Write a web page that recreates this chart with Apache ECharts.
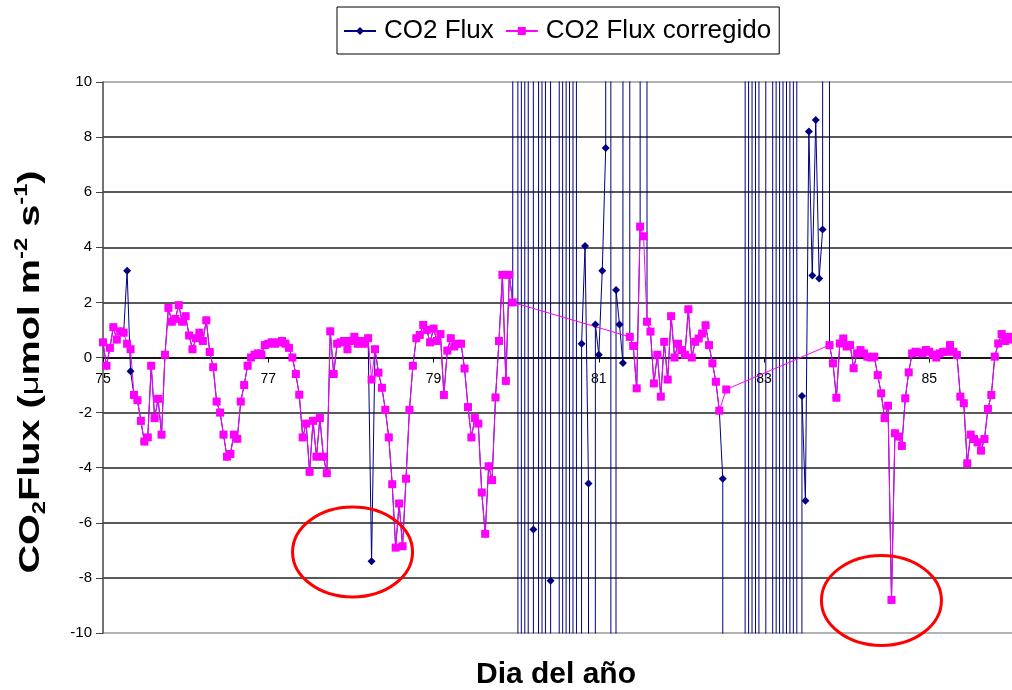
<!DOCTYPE html>
<html>
<head>
<meta charset="utf-8">
<script src="https://cdn.jsdelivr.net/npm/echarts@6/dist/echarts.min.js"></script>
<style>
  html, body { margin: 0; padding: 0; background: #ffffff; }
  #chart { width: 1012px; height: 690px; }
</style>
</head>
<body>
<div id="chart"></div>
<script>
// Hourly CO2 flux records, day of year 75 to 86
const firstDay = 75;
const lastDay = 86;
const samplesPerDay = 24;
const dayTicks = [75, 77, 79, 81, 83, 85];
const seriesNames = ['CO2 Flux', 'CO2 Flux corregido'];

// Raw flux (µmol m-2 s-1); +/-999 are sensor error values far outside the axis
const fluxRaw = [
  0.55, -0.3, 0.35, 1.1, 0.65, 0.95, 0.9, 3.15, -0.5, -1.36, -1.55, -2.3,
  -3.05, -2.9, -0.3, -2.2, -1.5, -2.8, 0.1, 1.8, 1.3, 1.4, 1.9, 1.3,
  1.5, 0.8, 0.3, 0.7, 0.9, 0.6, 1.35, 0.2, -0.35, -1.6, -2.0, -2.8,
  -3.6, -3.5, -2.8, -2.95, -1.6, -1.0, -0.3, 0.0, 0.1, 0.15, 0.1, 0.45,
  0.5, 0.55, 0.5, 0.55, 0.6, 0.5, 0.35, 0.0, -0.6, -1.35, -2.9, -2.4,
  -4.15, -2.3, -3.6, -2.2, -3.6, -4.2, 0.95, -0.6, 0.5, 0.55, 0.6, 0.3,
  0.6, 0.75, 0.5, 0.6, 0.5, 0.7, -7.4, 0.3, -0.55, -1.1, -1.9, -2.9,
  -4.6, -6.9, -5.3, -6.85, -4.4, -1.9, -0.3, 0.7, 0.82, 1.18, 1.0, 0.55,
  1.05, 0.6, 0.85, -1.36, 0.25, 0.7, 0.4, 0.5, 0.5, -0.4, -1.8, -2.9,
  -2.2, -2.4, -4.9, -6.4, -3.95, -4.45, -1.45, 0.6, 3.0, -0.85, 3.0, 2.0,
  999, -999, 999, -999, 999, -6.24, -999, 999, -999, 999, -8.1, -999,
  -999, 999, -999, 999, -999, 999, -999, 0.5, 4.05, -4.57, -999, 1.2,
  0.1, 3.15, 7.6, 999, -999, 2.45, 1.2, -0.2, 999,
  0.75, 0.42, -1.12, 4.75, 999, 1.3, 0.94, -0.94, 0.1, -1.42, 0.57, -0.8,
  1.5, 0.0, 0.5, 0.27, 0.1, 1.75, 0.0, 0.57, 0.69, 0.87, 1.17, 0.45,
  -0.21, -0.88, -1.93, -4.4, -999,
  -999, -999, -999, -999, -999, 999, -999, 999, -999, 999, 999, -999,
  -999, 999, -999, 999, -999, 999, -999, 999, -999, -1.4, -5.2, 8.2,
  2.98, 8.62, 2.87, 4.65, 999,
  0.45, -0.21, -1.46, 0.51, 0.69, 0.4, 0.45, -0.39, 0.15, 0.27,
  0.15, 0.03, 0.0, 0.03, -0.64, -1.3, -2.2, -1.75, -8.8, -2.75,
  -2.87, -3.21, -1.48, -0.54, 0.15, 0.21, 0.18, 0.15, 0.27, 0.21,
  0.1, 0.0, 0.15, 0.2, 0.21, 0.45, 0.21, 0.09, -1.42, -1.66,
  -3.84, -2.8, -2.96, -3.08, -3.38, -2.96, -1.87, -1.36, 0.03, 0.51,
  0.85, 0.6, 0.75, 0.65
];

// Corrected flux; null = rejected record (line joins across gaps)
const fluxCorregido = [
  0.55, -0.3, 0.35, 1.1, 0.65, 0.95, 0.9, 0.5, 0.3, -1.36, -1.55, -2.3,
  -3.05, -2.9, -0.3, -2.2, -1.5, -2.8, 0.1, 1.8, 1.3, 1.4, 1.9, 1.3,
  1.5, 0.8, 0.3, 0.7, 0.9, 0.6, 1.35, 0.2, -0.35, -1.6, -2.0, -2.8,
  -3.6, -3.5, -2.8, -2.95, -1.6, -1.0, -0.3, 0.0, 0.1, 0.15, 0.1, 0.45,
  0.5, 0.55, 0.5, 0.55, 0.6, 0.5, 0.35, 0.0, -0.6, -1.35, -2.9, -2.4,
  -4.15, -2.3, -3.6, -2.2, -3.6, -4.2, 0.95, -0.6, 0.5, 0.55, 0.6, 0.3,
  0.6, 0.75, 0.5, 0.6, 0.5, 0.7, -0.8, 0.3, -0.55, -1.1, -1.9, -2.9,
  -4.6, -6.9, -5.3, -6.85, -4.4, -1.9, -0.3, 0.7, 0.82, 1.18, 1.0, 0.55,
  1.05, 0.6, 0.85, -1.36, 0.25, 0.7, 0.4, 0.5, 0.5, -0.4, -1.8, -2.9,
  -2.2, -2.4, -4.9, -6.4, -3.95, -4.45, -1.45, 0.6, 3.0, -0.85, 3.0, 2.0,
  null, null, null, null, null, null, null, null, null, null, null, null,
  null, null, null, null, null, null, null, null, null, null, null, null,
  null, null, null, null, null, null, null, null, null,
  0.75, 0.42, -1.12, 4.75, 4.4, 1.3, 0.94, -0.94, 0.1, -1.42, 0.57, -0.8,
  1.5, 0.0, 0.5, 0.27, 0.1, 1.75, 0.0, 0.57, 0.69, 0.87, 1.17, 0.45,
  -0.21, -0.88, -1.93, null, -1.16,
  null, null, null, null, null, null, null, null, null, null, null, null,
  null, null, null, null, null, null, null, null, null, null, null, null,
  null, null, null, null, null,
  0.45, -0.21, -1.46, 0.51, 0.69, 0.4, 0.45, -0.39, 0.15, 0.27,
  0.15, 0.03, 0.0, 0.03, -0.64, -1.3, -2.2, -1.75, -8.8, -2.75,
  -2.87, -3.21, -1.48, -0.54, 0.15, 0.21, 0.18, 0.15, 0.27, 0.21,
  0.1, 0.0, 0.15, 0.2, 0.21, 0.45, 0.21, 0.09, -1.42, -1.66,
  -3.84, -2.8, -2.96, -3.08, -3.38, -2.96, -1.87, -1.36, 0.03, 0.51,
  0.85, 0.6, 0.75, 0.65
];

// Suspicious minima ringed in red: [day, flux]
const flaggedPoints = [[78.02, -7.06], [84.42, -8.82]];

const FONT = 'Arial, "Liberation Sans", Helvetica, sans-serif';
const withDays = values => values.map((v, i) => [firstDay + i / samplesPerDay, v]);

const chart = echarts.init(document.getElementById('chart'), null, { renderer: 'canvas' });

const gridLineColors = ['#9a9a9a', '#222', '#222', '#222', '#222', '#222',
  '#222', '#222', '#222', '#222', '#9a9a9a'];

chart.setOption({
  animation: false,
  backgroundColor: '#ffffff',
  grid: { left: 103, right: 0, top: 82, bottom: 57 },
  legend: {
    data: seriesNames,
    left: 337,
    top: 7,
    padding: [11, 8, 10, 6],
    itemGap: 11,
    itemWidth: 32,
    itemHeight: 10,
    borderColor: '#000',
    borderWidth: 1,
    backgroundColor: '#fff',
    textStyle: { fontFamily: FONT, fontSize: 26, color: '#000', padding: [0, 0, 0, 3] },
    selectedMode: false
  },
  xAxis: {
    type: 'value',
    min: firstDay,
    max: lastDay,
    interval: 1,
    axisLine: { onZero: false, lineStyle: { color: '#000', width: 1.5 } },
    axisTick: { customValues: dayTicks, length: 5, inside: false, lineStyle: { color: '#000' } },
    axisLabel: { customValues: dayTicks, fontFamily: FONT, fontSize: 14, color: '#000', margin: 15 },
    splitLine: { show: false }
  },
  yAxis: {
    type: 'value',
    min: -10,
    max: 10,
    interval: 2,
    axisLine: { show: true, onZero: false, lineStyle: { color: '#444', width: 1.5 } },
    axisTick: { show: true, length: 7, lineStyle: { color: '#444' } },
    axisLabel: { fontFamily: FONT, fontSize: 15, color: '#000', margin: 11 },
    splitLine: { show: true, lineStyle: { color: gridLineColors, width: 1.5 } }
  },
  series: [
    {
      name: seriesNames[0],
      type: 'line',
      data: withDays(fluxRaw),
      symbol: 'diamond',
      symbolSize: 8,
      clip: true,
      lineStyle: { color: '#000080', width: 1 },
      itemStyle: { color: '#000080' },
      emphasis: { disabled: true }
    },
    {
      name: seriesNames[1],
      type: 'line',
      data: withDays(fluxCorregido),
      connectNulls: true,
      symbol: 'rect',
      symbolSize: 8,
      clip: true,
      lineStyle: { color: '#ff00ff', width: 1 },
      itemStyle: { color: '#ff00ff' },
      emphasis: { disabled: true }
    }
  ]
});

// Move the day axis up so it crosses the flux axis at zero
const zeroY = chart.convertToPixel({ yAxisIndex: 0 }, 0);
const bottomY = chart.convertToPixel({ yAxisIndex: 0 }, -10);
chart.setOption({ xAxis: { offset: zeroY - bottomY } });

// Titles and red rings around the flagged minima
const rings = flaggedPoints.map(p => {
  const c = chart.convertToPixel({ gridIndex: 0 }, p);
  return {
    type: 'ellipse',
    z: 100,
    silent: true,
    shape: { cx: c[0], cy: c[1], rx: 60, ry: 45 },
    style: { fill: 'none', stroke: '#ff0000', lineWidth: 3 }
  };
});

chart.setOption({
  graphic: [
    ...rings,
    {
      type: 'text',
      x: 556, y: 675,
      silent: true,
      style: {
        text: 'Dia del año',
        font: 'bold 30px ' + FONT,
        fill: '#000',
        align: 'center',
        verticalAlign: 'middle'
      }
    },
    {
      type: 'text',
      x: 31, y: 372,
      rotation: Math.PI / 2,
      scaleX: 1.32,
      silent: true,
      style: {
        text: '{b|CO}{s|2}{b|Flux (}{m|\u03bc}{b|mol m}{p|-2}{b| s}{p|-1}{b|)}',
        align: 'center',
        verticalAlign: 'middle',
        fill: '#000',
        rich: {
          b: { font: 'bold 30px ' + FONT, lineHeight: 36, fill: '#000' },
          m: { font: '26px ' + FONT, lineHeight: 36, fill: '#000' },
          s: { font: 'bold 18px ' + FONT, lineHeight: 18, verticalAlign: 'bottom', fill: '#000' },
          p: { font: 'bold 18px ' + FONT, lineHeight: 18, verticalAlign: 'top', fill: '#000' }
        }
      }
    }
  ]
});
</script>
</body>
</html>
